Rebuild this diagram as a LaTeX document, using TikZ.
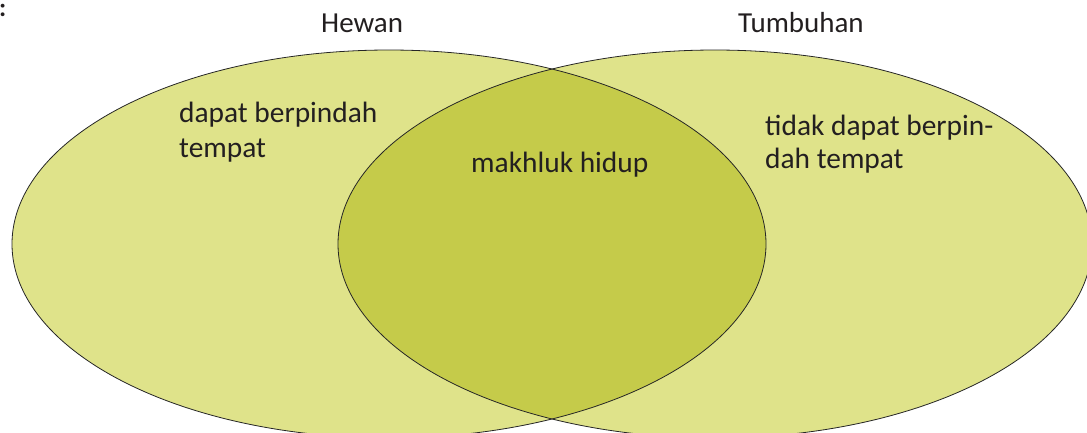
\documentclass[tikz,border=0pt]{standalone}
\usepackage{fontspec}
\setmainfont{Carlito}
\newfontfamily\labelfont{Carlito}
\definecolor{lightfill}{RGB}{223,227,138}
\definecolor{darkfill}{RGB}{197,203,74}
\definecolor{txt}{RGB}{35,31,32}
\begin{document}
\begin{tikzpicture}[x=1pt,y=-1pt,
  body/.style={anchor=base west,inner sep=0pt,text=txt,font=\fontsize{29.4}{35}\selectfont,align=left},
  head/.style={anchor=base west,inner sep=0pt,text=txt,font=\labelfont\fontsize{29}{32}\selectfont},
  outline/.style={draw=black!85,line width=0.8pt}]
\useasboundingbox (0,0) rectangle (1087,432);
\coordinate (cl) at (389,244);
\coordinate (cr) at (715,244);
\fill[lightfill] (cl) ellipse [x radius=377, y radius=194];
\fill[lightfill] (cr) ellipse [x radius=377, y radius=194];
\begin{scope}
  \clip (cl) ellipse [x radius=377, y radius=194];
  \fill[darkfill] (cr) ellipse [x radius=377, y radius=194];
\end{scope}
\draw[outline] (cl) ellipse [x radius=377, y radius=194];
\draw[outline] (cr) ellipse [x radius=377, y radius=194];
\node[body,font=\bfseries\fontsize{26}{30}\selectfont] (colon) at (-1,16) {:};
\node[head] (hewan) at (321,32) {Hewan};
\node[head] (tumbuhan) at (738,32) {Tumbuhan};
\node[body] (a1) at (179,122) {dapat berpindah};
\node[body] (a2) at (179,157) {tempat};
\node[body] (m) at (471,172) {makhluk hidup};
\node[body] (t1) at (765,135) {tidak dapat berpin-};
\node[body] (t2) at (765,168) {dah tempat};
\end{tikzpicture}
\end{document}
